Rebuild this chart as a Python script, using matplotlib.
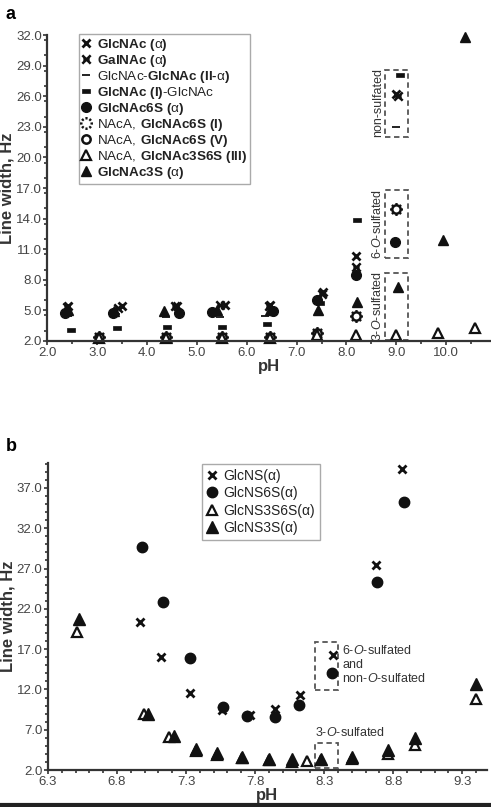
import numpy as np
import matplotlib
matplotlib.use('Agg')
import matplotlib.pyplot as plt
from matplotlib.path import Path
from matplotlib.patches import Rectangle
from matplotlib.lines import Line2D
from matplotlib.ticker import MultipleLocator, FormatStrFormatter

plt.rcParams['font.family'] = ['Liberation Sans', 'DejaVu Sans']
plt.rcParams['mathtext.fontset'] = 'custom'
plt.rcParams['mathtext.rm'] = 'Liberation Sans'
plt.rcParams['mathtext.bf'] = 'Liberation Sans:bold'
plt.rcParams['mathtext.it'] = 'Liberation Sans:italic'

# ---- panel a data (pH, line width Hz) ----
glcnac_ph = [2.42, 3.50, 4.60, 5.56, 6.46, 7.53, 8.20, 9.00]
glcnac_lw = [5.4, 5.4, 5.4, 5.5, 5.5, 6.8, 10.3, 26.2]
galnac_ph = [2.40, 3.42, 4.55, 5.46, 6.44, 7.50, 8.20, 9.03]
galnac_lw = [5.3, 5.2, 5.4, 5.5, 5.4, 6.6, 9.3, 26.0]
diglc2_ph = [2.42, 3.38, 4.38, 5.46, 6.37, 9.00]
diglc2_lw = [4.4, 4.6, 4.35, 4.35, 4.4, 23.0]
diglc1_ph = [2.48, 3.40, 4.40, 5.50, 6.40, 7.47, 8.22, 9.07]
diglc1_lw = [3.1, 3.3, 3.4, 3.4, 3.7, 5.75, 13.9, 28.1]
glc6s_ph = [2.35, 3.32, 4.63, 5.30, 6.53, 7.41, 8.20, 8.97]
glc6s_lw = [4.7, 4.7, 4.75, 4.8, 4.9, 6.0, 8.5, 11.7]
naca6s1_ph = [3.04, 4.38, 5.50, 6.46, 7.40, 8.20, 9.00]
naca6s1_lw = [2.4, 2.4, 2.4, 2.4, 2.8, 4.4, 14.9]
naca6s5_ph = [3.04, 4.38, 5.50, 6.46, 7.40, 8.20, 9.00]
naca6s5_lw = [2.4, 2.4, 2.4, 2.4, 2.8, 4.4, 14.9]
naca36_ph = [3.04, 4.38, 5.50, 6.46, 7.40, 8.20, 9.00, 9.83, 10.57]
naca36_lw = [2.3, 2.3, 2.3, 2.3, 2.6, 2.6, 2.6, 2.8, 3.3]
glc3s_ph = [2.42, 3.34, 4.33, 5.40, 6.46, 7.43, 8.22, 9.03, 9.93, 10.37]
glc3s_lw = [5.0, 4.9, 4.95, 5.0, 5.0, 5.0, 5.85, 7.3, 11.9, 31.8]

labels_a = [
    r"$\mathbf{GlcNAc\ (}\mathrm{α}\mathbf{)}$",
    r"$\mathbf{GalNAc\ (}\mathrm{α}\mathbf{)}$",
    r"$\mathrm{GlcNAc‐}\mathbf{GlcNAc\ (II‐}\mathrm{α}\mathbf{)}$",
    r"$\mathbf{GlcNAc\ (I)}\mathrm{‐GlcNAc}$",
    r"$\mathbf{GlcNAc6S\ (}\mathrm{α}\mathbf{)}$",
    r"$\mathrm{NAcA,}\:\mathbf{GlcNAc6S\ (I)}$",
    r"$\mathrm{NAcA,}\:\mathbf{GlcNAc6S\ (V)}$",
    r"$\mathrm{NAcA,}\:\mathbf{GlcNAc3S6S\ (III)}$",
    r"$\mathbf{GlcNAc3S\ (}\mathrm{α}\mathbf{)}$",
]

# ---- panel b data ----
glcns_ph = [6.967, 7.119, 7.329, 7.563, 7.764, 7.945, 8.126, 8.363, 8.675, 8.863]
glcns_lw = [20.4, 16.0, 11.6, 9.45, 8.85, 9.57, 11.3, 16.3, 27.4, 39.4]
glcns6s_ph = [6.979, 7.136, 7.329, 7.566, 7.740, 7.945, 8.117, 8.356, 8.682, 8.882]
glcns6s_lw = [29.7, 22.9, 15.9, 9.8, 8.75, 8.6, 10.1, 14.1, 25.3, 35.2]
glcns36_ph = [6.513, 6.998, 7.177, 7.370, 7.527, 7.703, 7.904, 8.070, 8.175, 8.278, 8.500, 8.760, 8.955, 9.400]
glcns36_lw = [19.1, 9.0, 6.1, 4.4, 3.9, 3.5, 3.2, 3.0, 3.1, 3.2, 3.35, 4.0, 5.1, 10.8]
glcns3s_ph = [6.525, 7.027, 7.213, 7.370, 7.527, 7.703, 7.904, 8.070, 8.278, 8.500, 8.760, 8.955, 9.400]
glcns3s_lw = [20.7, 8.9, 6.2, 4.6, 4.07, 3.65, 3.32, 3.37, 3.33, 3.65, 4.48, 5.93, 12.67]

labels_b = ["GlcNS(α)", "GlcNS6S(α)", "GlcNS3S6S(α)", "GlcNS3S(α)"]

INK = '#111111'
GREY = '#444444'

# custom markers
xbar = Path([(-1, -1), (1, 1), (-1, 1), (1, -1), (-0.75, 0), (0.75, 0)],
            [Path.MOVETO, Path.LINETO, Path.MOVETO, Path.LINETO, Path.MOVETO, Path.LINETO])
bar = Path([(-1, -0.5), (1, -0.5), (1, 0.5), (-1, 0.5), (-1, -0.5)],
           [Path.MOVETO, Path.LINETO, Path.LINETO, Path.LINETO, Path.CLOSEPOLY])
verts, codes = [], []
for k in range(8):
    a = np.radians(np.linspace(k * 45 - 12, k * 45 + 12, 4))
    for i, (cx, cy) in enumerate(zip(np.cos(a), np.sin(a))):
        verts.append((cx, cy))
        codes.append(Path.MOVETO if i == 0 else Path.LINETO)
dotcirc = Path(verts, codes)


def style_axis(ax):
    for s in ['top', 'right']:
        ax.spines[s].set_visible(False)
    for s in ['left', 'bottom']:
        ax.spines[s].set_color('#333333')
        ax.spines[s].set_linewidth(1.6)
    ax.tick_params(which='major', length=3, width=1.2, color='#333333',
                   labelsize=9.5, labelcolor=GREY, pad=1)
    ax.tick_params(which='minor', length=2, width=1.2, color='#333333')
    ax.xaxis.set_major_formatter(FormatStrFormatter('%.1f'))
    ax.yaxis.set_major_formatter(FormatStrFormatter('%.1f'))
    ax.set_xlabel('pH', fontsize=12, fontweight='bold', color='#333333', labelpad=0)
    ax.set_ylabel('Line width, Hz', fontsize=12, fontweight='bold', color='#333333', labelpad=1)


def dbox(ax, x0, x1, y0, y1):
    ax.add_patch(Rectangle((x0, y0), x1 - x0, y1 - y0, fill=False, edgecolor='#555555',
                           linestyle=(0, (3, 2)), linewidth=1.3, clip_on=False))


fig = plt.figure(figsize=(4.91, 8.07), dpi=100)

# ---------------- panel a ----------------
axa = fig.add_axes([0.0967, 0.5775, 0.9033, 0.379])
kw = dict(linestyle='none', clip_on=False)
axa.plot(glcnac_ph, glcnac_lw, marker='x', ms=5.5, mew=2, color=INK, **kw)
axa.plot(galnac_ph, galnac_lw, marker=xbar, ms=6, mew=1.8, color=INK, mfc='none', **kw)
axa.plot(diglc2_ph, diglc2_lw, marker='_', ms=6, mew=1.3, color=INK, **kw)
axa.plot(diglc1_ph, diglc1_lw, marker=bar, ms=6, mew=0.5, color=INK, **kw)
axa.plot(glc6s_ph, glc6s_lw, marker='o', ms=7, color=INK, **kw)
axa.plot(naca6s1_ph, naca6s1_lw, marker=dotcirc, ms=7.5, mew=1.8, color=INK, mfc='none', **kw)
axa.plot(naca6s5_ph, naca6s5_lw, marker='o', ms=6, mew=1.8, color=INK, mfc='none', **kw)
axa.plot(naca36_ph, naca36_lw, marker='^', ms=6.5, mew=1.6, color=INK, mfc='white', **kw)
axa.plot(glc3s_ph, glc3s_lw, marker='^', ms=7.5, color=INK, **kw)

axa.set_xlim(2.0, 10.9)
axa.set_ylim(2.0, 32.0)
axa.xaxis.set_major_locator(MultipleLocator(1.0))
axa.xaxis.set_minor_locator(MultipleLocator(0.5))
axa.set_yticks(np.arange(2.0, 32.1, 3.0))
axa.yaxis.set_minor_locator(MultipleLocator(1.5))
style_axis(axa)

leg = axa.legend(labels_a, loc='upper left', bbox_to_anchor=(0.071, 1.003), borderaxespad=0,
                 fontsize=9.7, handlelength=0.7, handletextpad=0.45, labelspacing=0.0,
                 borderpad=0.2, fancybox=False, edgecolor='#aaaaaa', framealpha=1)
leg.get_frame().set_linewidth(1.0)
for t in leg.get_texts():
    t.set_color('#222222')

dbox(axa, 8.77, 9.23, 22.0, 28.6)
dbox(axa, 8.77, 9.23, 10.1, 16.8)
dbox(axa, 8.77, 9.23, 2.1, 8.7)
axa.text(8.63, 25.4, 'non-sulfated', rotation=90, ha='center', va='center', fontsize=9, color='#333333')
axa.text(8.63, 13.45, r'6-$\mathit{O}$-sulfated', rotation=90, ha='center', va='center', fontsize=9, color='#333333')
axa.text(8.63, 5.4, r'3-$\mathit{O}$-sulfated', rotation=90, ha='center', va='center', fontsize=9, color='#333333')

# ---------------- panel b ----------------
axb = fig.add_axes([0.0978, 0.0458, 0.894, 0.3805])
axb.plot(glcns_ph, glcns_lw, marker='x', ms=5.5, mew=2, color=INK, **kw)
axb.plot(glcns6s_ph, glcns6s_lw, marker='o', ms=7.5, color=INK, **kw)
axb.plot(glcns36_ph, glcns36_lw, marker='^', ms=7, mew=1.6, color=INK, mfc='white', **kw)
axb.plot(glcns3s_ph, glcns3s_lw, marker='^', ms=8, color=INK, **kw)

axb.set_xlim(6.3, 9.48)
axb.set_ylim(2.0, 40.1)
axb.xaxis.set_minor_locator(MultipleLocator(0.1))
axb.set_xticks(np.arange(6.3, 9.31, 0.5))
axb.set_yticks(np.arange(2.0, 37.1, 5.0))
axb.yaxis.set_minor_locator(MultipleLocator(1.0))
style_axis(axb)

legb = axb.legend(labels_b, loc='upper left', bbox_to_anchor=(0.351, 0.997), borderaxespad=0,
                  fontsize=10, handlelength=0.7, handletextpad=0.5, labelspacing=0.25,
                  borderpad=0.35, fancybox=False, edgecolor='#aaaaaa', framealpha=1)
legb.get_frame().set_linewidth(1.0)
for t in legb.get_texts():
    t.set_color('#222222')

dbox(axb, 8.235, 8.40, 11.9, 17.9)
dbox(axb, 8.235, 8.40, 2.25, 5.35)
axb.text(8.43, 17.6, '6-$\\mathit{O}$-sulfated\nand\nnon-$\\mathit{O}$-sulfated', ha='left', va='top',
         fontsize=9, color='#333333', linespacing=1.15)
axb.text(8.235, 5.8, r'3-$\mathit{O}$-sulfated', ha='left', va='bottom', fontsize=9, color='#333333')

# panel letters and bottom rule
fig.text(0.012, 0.982, 'a', fontsize=13, fontweight='bold', va='center')
fig.text(0.012, 0.447, 'b', fontsize=13, fontweight='bold', va='center')
fig.add_artist(Line2D([0, 1], [0.0025, 0.0025], transform=fig.transFigure, color='#222222', lw=3))

fig.savefig('out.png', dpi=100)
